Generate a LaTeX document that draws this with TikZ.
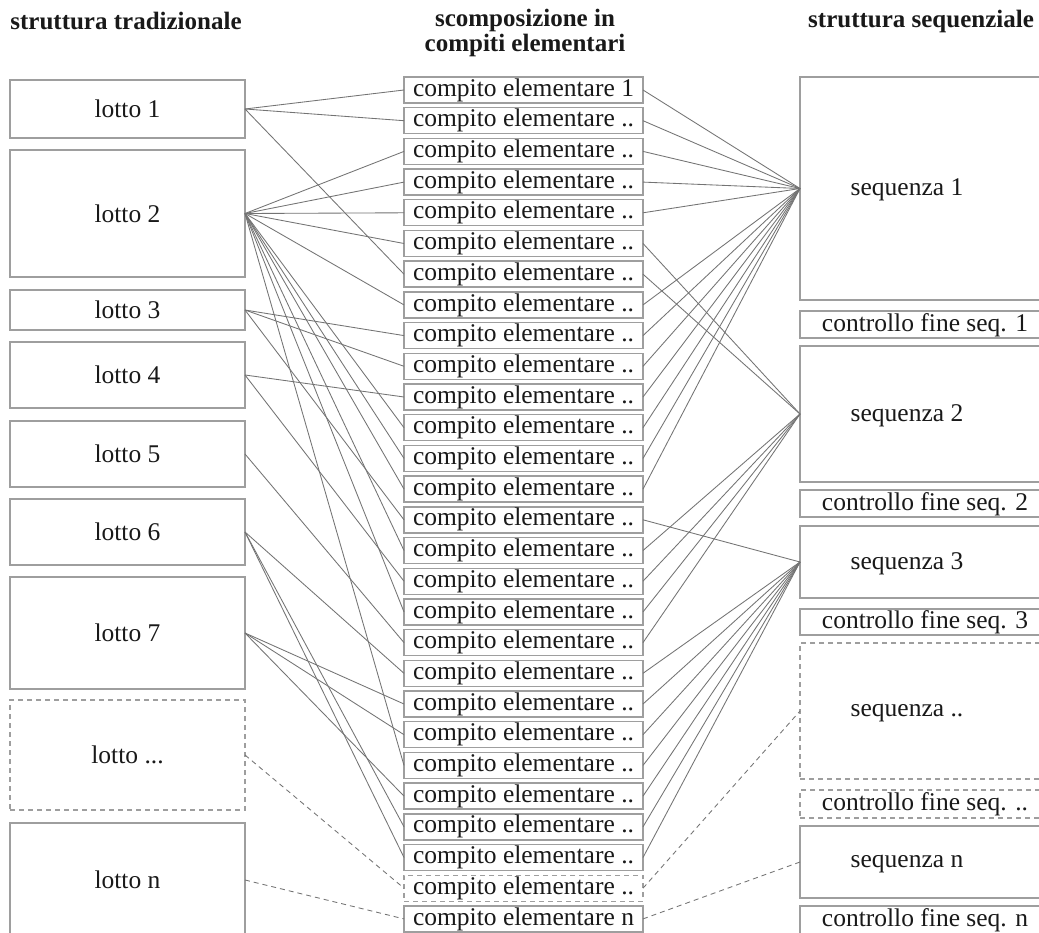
\documentclass[tikz,border=0pt]{standalone}
\usepackage{fontspec}
\setmainfont{Liberation Serif}
\definecolor{boxgray}{gray}{0.62}
\definecolor{lngray}{gray}{0.45}
\definecolor{txt}{gray}{0.1}
\begin{document}
\begin{tikzpicture}[x=1pt,y=-1pt,
  box/.style={draw=boxgray, line width=1.4pt, inner sep=0pt, outer sep=0pt, text=txt,
    font=\fontsize{25.5}{26}\selectfont},
  dbox/.style={box, dash pattern=on 5pt off 4pt},
  mbox/.style={box, minimum width=239pt, minimum height=26pt},
  ln/.style={draw=lngray, line width=0.85pt},
  dln/.style={ln, dash pattern=on 5pt off 4pt},
  ttl/.style={font=\bfseries\fontsize{25}{24.5}\selectfont, align=center, inner sep=0pt, text=txt},
  lbl/.style={font=\fontsize{25.5}{26}\selectfont, inner sep=0pt, text=txt}
]
\useasboundingbox (0,0) rectangle (1039,933);
\fill[white] (0,0) rectangle (1039,933);

% titles
\node[ttl] (t1) at (126,21) {struttura tradizionale};
\node[ttl] (t2) at (525,33) {scomposizione in\\compiti elementari};
\node[ttl, anchor=west] (t3) at (808,21) {struttura sequenziale};

% left column
\node[box, anchor=north west, minimum width=235pt, minimum height=58pt]  (L1) at (10,80)  {lotto 1};
\node[box, anchor=north west, minimum width=235pt, minimum height=127pt] (L2) at (10,150) {lotto 2};
\node[box, anchor=north west, minimum width=235pt, minimum height=40pt]  (L3) at (10,290) {lotto 3};
\node[box, anchor=north west, minimum width=235pt, minimum height=66pt]  (L4) at (10,342) {lotto 4};
\node[box, anchor=north west, minimum width=235pt, minimum height=66pt]  (L5) at (10,421) {lotto 5};
\node[box, anchor=north west, minimum width=235pt, minimum height=66pt]  (L6) at (10,499) {lotto 6};
\node[box, anchor=north west, minimum width=235pt, minimum height=112pt] (L7) at (10,577) {lotto 7};
\node[dbox, anchor=north west, minimum width=235pt, minimum height=110pt] (L8) at (10,700) {lotto ...};
\node[box, anchor=north west, minimum width=235pt, minimum height=114pt] (L9) at (10,823) {lotto n};

% middle column
\node[mbox] (m1) at (523.5,90) {compito elementare 1};
\foreach \i in {2,...,26} {
  \node[mbox] (m\i) at (523.5,{90+30.7*(\i-1)}) {compito elementare ..};
}
\node[mbox, dash pattern=on 5pt off 4pt] (m27) at (523.5,{90+30.7*26}) {compito elementare ..};
\node[mbox] (m28) at (523.5,{90+30.7*27}) {compito elementare n};

% right column
\node[box, anchor=north west, minimum width=250pt, minimum height=223pt] (S1) at (800,77) {};
\node[box, anchor=north west, minimum width=250pt, minimum height=27pt]  (C1) at (800,311) {};
\node[box, anchor=north west, minimum width=250pt, minimum height=136pt] (S2) at (800,346) {};
\node[box, anchor=north west, minimum width=250pt, minimum height=27pt]  (C2) at (800,490) {};
\node[box, anchor=north west, minimum width=250pt, minimum height=72pt]  (S3) at (800,526) {};
\node[box, anchor=north west, minimum width=250pt, minimum height=26pt]  (C3) at (800,609) {};
\node[dbox, anchor=north west, minimum width=250pt, minimum height=136pt] (S4) at (800,643) {};
\node[dbox, anchor=north west, minimum width=250pt, minimum height=28pt]  (C4) at (800,790) {};
\node[box, anchor=north west, minimum width=250pt, minimum height=72pt]  (S5) at (800,826) {};
\node[box, anchor=north west, minimum width=250pt, minimum height=30pt]  (C5) at (800,906) {};

\node[lbl] (s1t) at (907,190) {sequenza 1};
\node[lbl] (s2t) at (907,416) {sequenza 2};
\node[lbl] (s3t) at (907,564) {sequenza 3};
\node[lbl] (s4t) at (907,713) {sequenza ..};
\node[lbl] (s5t) at (907,864) {sequenza n};
\node[lbl] (c1t) at (925,325) {controllo fine seq. 1};
\node[lbl] (c2t) at (925,504) {controllo fine seq. 2};
\node[lbl] (c3t) at (925,622) {controllo fine seq. 3};
\node[lbl] (c4t) at (925,804) {controllo fine seq. ..};
\node[lbl] (c5t) at (925,920) {controllo fine seq. n};

% left connectors
\foreach \a/\b in {1/1,1/2,1/7,
  2/3,2/4,2/5,2/6,2/8,2/12,2/13,2/14,2/16,2/18,2/23,
  3/9,3/10,3/15,
  4/11,4/17,
  5/19,
  6/20,6/25,6/26,
  7/21,7/22,7/24} {
  \draw[ln] (L\a.east) -- (m\b.west);
}
\draw[dln] (L8.east) -- (m27.west);
\draw[dln] (L9.east) -- (m28.west);

% right connectors
\foreach \b in {1,2,3,4,5,8,9,10,11,12,13,14} { \draw[ln] (m\b.east) -- (S1.west); }
\foreach \b in {6,7,16,17,18,19} { \draw[ln] (m\b.east) -- (S2.west); }
\foreach \b in {15,20,21,22,23,24,25,26} { \draw[ln] (m\b.east) -- (S3.west); }
\draw[dln] (m27.east) -- (S4.west);
\draw[dln] (m28.east) -- (S5.west);
\end{tikzpicture}
\end{document}
